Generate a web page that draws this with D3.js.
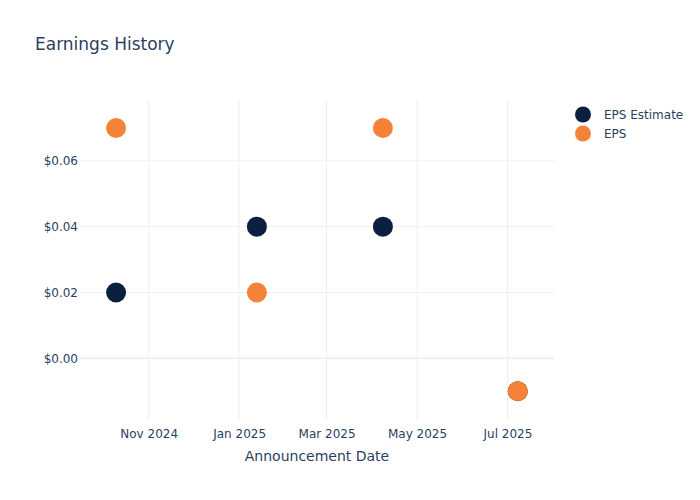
<!DOCTYPE html>
<html>
<head>
<meta charset="utf-8">
<script src="https://cdn.jsdelivr.net/npm/d3@7"></script>
<style>
  html, body { margin: 0; padding: 0; background: #fff; }
  svg { display: block; font-family: "DejaVu Sans", Verdana, sans-serif; }
</style>
</head>
<body>
<svg id="chart" width="700" height="500"></svg>
<script>
const dates = ["2024-10-10", "2025-01-13", "2025-04-08", "2025-07-08"];
const epsEstimate = [0.02, 0.04, 0.04, -0.01];
const epsActual = [0.07, 0.02, 0.07, -0.01];
const seriesNames = ["EPS Estimate", "EPS"];
const seriesColors = ["#0b1f40", "#f68237"];
const yTicks = [0, 0.02, 0.04, 0.06];
const xTicks = ["2024-11-01", "2025-01-01", "2025-03-01", "2025-05-01", "2025-07-01"];
const titleText = "Earnings History";
const xTitle = "Announcement Date";

const svg = d3.select("#chart");
const W = 700, H = 500;
const m = { l: 80, r: 146, t: 100, b: 80 };
const pw = W - m.l - m.r, ph = H - m.t - m.b;
const textColor = "#2a3f5f";
const gridColor = "#ebf0f8";
const fontFam = '"DejaVu Sans", Verdana, sans-serif';

const parse = d3.utcParse("%Y-%m-%d");
const x = d3.scaleUtc()
  .domain([new Date(Date.UTC(2024, 8, 15, 16)), new Date(Date.UTC(2025, 7, 1, 10))])
  .range([m.l, m.l + pw]);
const y = d3.scaleLinear()
  .domain([-0.01875, 0.0785])
  .range([m.t + ph, m.t]);

svg.append("text")
  .attr("x", 35).attr("y", 50)
  .attr("fill", textColor)
  .style("font-size", "17px")
  .text(titleText);

// grid
const g = svg.append("g");
g.selectAll(".vg").data(xTicks.map(parse)).enter().append("line")
  .attr("x1", d => x(d)).attr("x2", d => x(d))
  .attr("y1", m.t).attr("y2", m.t + ph)
  .attr("stroke", gridColor).attr("stroke-width", 1);
g.selectAll(".hg").data(yTicks).enter().append("line")
  .attr("x1", m.l).attr("x2", m.l + pw)
  .attr("y1", d => y(d)).attr("y2", d => y(d))
  .attr("stroke", gridColor).attr("stroke-width", d => d === 0 ? 2 : 1);

// axes
const xAxis = d3.axisBottom(x).tickValues(xTicks.map(parse))
  .tickFormat(d3.utcFormat("%b %Y")).tickSize(0).tickPadding(9);
const xg = svg.append("g").attr("transform", `translate(0,${m.t + ph})`).call(xAxis);
xg.select(".domain").remove();
xg.selectAll("text").attr("fill", textColor).style("font-size", "12px")
  .style("font-family", fontFam);

const yAxis = d3.axisLeft(y).tickValues(yTicks)
  .tickFormat(d => "$" + d3.format(".2f")(d)).tickSize(0).tickPadding(2);
const yg = svg.append("g").attr("transform", `translate(${m.l},0)`).call(yAxis);
yg.select(".domain").remove();
yg.selectAll("text").attr("fill", textColor).style("font-size", "12px")
  .style("font-family", fontFam);

svg.append("text")
  .attr("x", m.l + pw / 2).attr("y", 461)
  .attr("text-anchor", "middle")
  .attr("fill", textColor)
  .style("font-size", "14px")
  .text(xTitle);

// points
const series = [epsEstimate, epsActual];
series.forEach((vals, i) => {
  svg.append("g").selectAll("circle")
    .data(vals.map((v, j) => ({ d: parse(dates[j]), v })))
    .enter().append("circle")
    .attr("cx", d => x(d.d)).attr("cy", d => y(d.v))
    .attr("r", 10)
    .attr("fill", seriesColors[i]);
});

// legend
const lg = svg.append("g");
seriesNames.forEach((n, i) => {
  lg.append("circle").attr("cx", 583).attr("cy", 114.5 + i * 19)
    .attr("r", 8).attr("fill", seriesColors[i]);
  lg.append("text").attr("x", 604).attr("y", 114.5 + i * 19)
    .attr("dy", "0.35em").attr("fill", textColor)
    .style("font-size", "12px").text(n);
});
</script>
</body>
</html>
